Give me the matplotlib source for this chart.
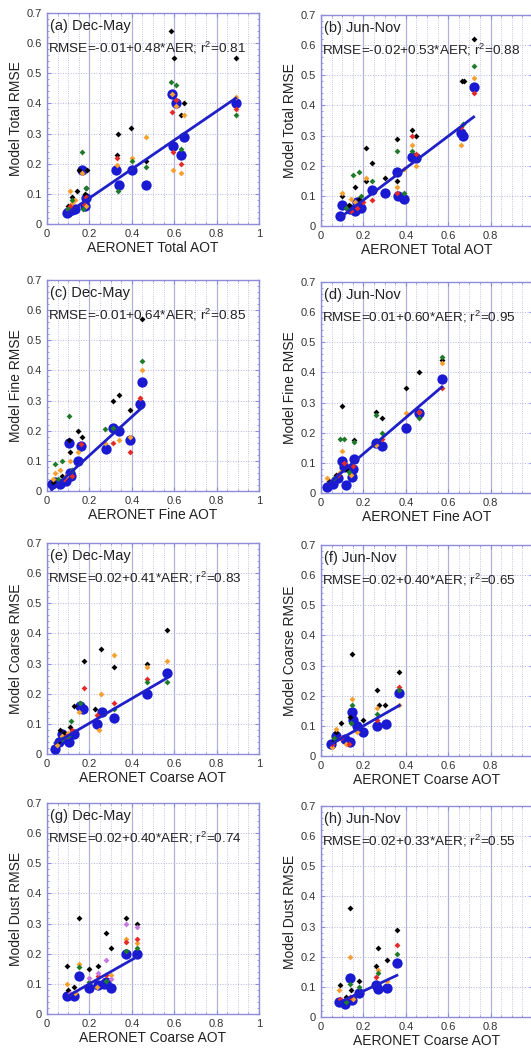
import matplotlib
matplotlib.use("Agg")
import matplotlib.pyplot as plt
from matplotlib.ticker import MultipleLocator

plt.rcParams['font.family'] = ['Liberation Sans', 'DejaVu Sans']
plt.rcParams['mathtext.fontset'] = 'custom'
plt.rcParams['mathtext.rm'] = 'Liberation Sans'
plt.rcParams['mathtext.it'] = 'Liberation Sans'

# ---- panel texts ----
PANEL_TAGS = ["(a) Dec-May", "(b) Jun-Nov", "(c) Dec-May", "(d) Jun-Nov",
              "(e) Dec-May", "(f) Jun-Nov", "(g) Dec-May", "(h) Jun-Nov"]
YLABELS = ["Model Total RMSE", "Model Total RMSE", "Model Fine RMSE", "Model Fine RMSE",
           "Model Coarse RMSE", "Model Coarse RMSE", "Model Dust RMSE", "Model Dust RMSE"]
XLABELS = ["AERONET Total AOT", "AERONET Total AOT", "AERONET Fine AOT", "AERONET Fine AOT",
           "AERONET Coarse AOT", "AERONET Coarse AOT", "AERONET Coarse AOT", "AERONET Coarse AOT"]
INTERCEPT = [-0.01, -0.02, -0.01, 0.01, 0.02, 0.02, 0.02, 0.02]
SLOPE = [0.48, 0.53, 0.64, 0.60, 0.41, 0.40, 0.40, 0.33]
R2 = [0.81, 0.88, 0.85, 0.95, 0.83, 0.65, 0.74, 0.55]

# ---- (a) total, Dec-May ----
A_BLUE = [(0.093, 0.035), (0.10, 0.04), (0.12, 0.045), (0.13, 0.05), (0.163, 0.18), (0.18, 0.06),
          (0.185, 0.085), (0.325, 0.18), (0.34, 0.13), (0.40, 0.18), (0.465, 0.13), (0.59, 0.43),
          (0.61, 0.40), (0.593, 0.26), (0.63, 0.23), (0.645, 0.29), (0.89, 0.40)]
A_BLACK = [(0.585, 0.64), (0.60, 0.55), (0.89, 0.55), (0.645, 0.40), (0.63, 0.36), (0.395, 0.32),
           (0.335, 0.30), (0.465, 0.21), (0.33, 0.23), (0.15, 0.18), (0.19, 0.18), (0.14, 0.11),
           (0.185, 0.12), (0.10, 0.06), (0.12, 0.09), (0.18, 0.10)]
A_ORANGE = [(0.465, 0.29), (0.40, 0.22), (0.33, 0.195), (0.595, 0.18), (0.63, 0.17), (0.645, 0.36),
            (0.89, 0.42), (0.11, 0.11), (0.163, 0.17), (0.61, 0.39), (0.59, 0.43), (0.12, 0.07),
            (0.10, 0.05), (0.185, 0.06), (0.13, 0.08)]
A_RED = [(0.59, 0.37), (0.63, 0.20), (0.593, 0.24), (0.33, 0.22), (0.89, 0.38), (0.61, 0.41),
         (0.185, 0.09), (0.11, 0.06), (0.17, 0.07)]
A_GREEN = [(0.585, 0.47), (0.61, 0.46), (0.163, 0.24), (0.89, 0.36), (0.335, 0.11), (0.40, 0.21),
           (0.465, 0.19), (0.63, 0.25), (0.185, 0.12), (0.10, 0.05), (0.12, 0.08), (0.17, 0.05)]

# ---- (b) total, Jun-Nov ----
B_BLUE = [(0.09, 0.032), (0.10, 0.07), (0.137, 0.056), (0.16, 0.05), (0.19, 0.06), (0.24, 0.12),
          (0.30, 0.11), (0.36, 0.18), (0.365, 0.10), (0.39, 0.09), (0.43, 0.23), (0.45, 0.225),
          (0.66, 0.31), (0.67, 0.30), (0.72, 0.46), (0.17, 0.08)]
B_BLACK = [(0.72, 0.62), (0.665, 0.48), (0.675, 0.48), (0.43, 0.32), (0.45, 0.30), (0.36, 0.29),
           (0.21, 0.26), (0.24, 0.21), (0.30, 0.16), (0.36, 0.15), (0.10, 0.10), (0.16, 0.13),
           (0.21, 0.15), (0.18, 0.09), (0.13, 0.07)]
B_GREEN = [(0.72, 0.53), (0.36, 0.25), (0.15, 0.17), (0.18, 0.18), (0.24, 0.15), (0.67, 0.34),
           (0.43, 0.25), (0.19, 0.10), (0.12, 0.06), (0.39, 0.11)]
B_ORANGE = [(0.72, 0.49), (0.66, 0.27), (0.43, 0.27), (0.21, 0.16), (0.36, 0.13), (0.45, 0.20),
            (0.10, 0.11), (0.39, 0.19), (0.16, 0.08), (0.14, 0.09)]
B_RED = [(0.72, 0.44), (0.66, 0.33), (0.24, 0.085), (0.45, 0.24), (0.36, 0.11), (0.43, 0.30),
         (0.14, 0.05), (0.17, 0.06), (0.20, 0.08)]

# ---- (c) fine, Dec-May ----
C_BLUE = [(0.022, 0.022), (0.04, 0.03), (0.06, 0.022), (0.09, 0.033), (0.11, 0.06), (0.115, 0.05),
          (0.105, 0.16), (0.16, 0.15), (0.145, 0.10), (0.28, 0.14), (0.31, 0.21), (0.34, 0.20),
          (0.39, 0.17), (0.447, 0.36), (0.44, 0.29)]
C_BLACK = [(0.447, 0.57), (0.34, 0.32), (0.31, 0.30), (0.39, 0.27), (0.145, 0.20), (0.163, 0.18),
           (0.11, 0.13), (0.105, 0.17), (0.03, 0.03), (0.07, 0.05)]
C_GREEN = [(0.447, 0.43), (0.105, 0.25), (0.07, 0.10), (0.04, 0.09), (0.31, 0.21), (0.275, 0.205),
           (0.12, 0.07), (0.05, 0.04)]
C_ORANGE = [(0.447, 0.40), (0.44, 0.31), (0.34, 0.17), (0.145, 0.13), (0.11, 0.10), (0.275, 0.16),
            (0.39, 0.18), (0.04, 0.06), (0.06, 0.07), (0.09, 0.05), (0.03, 0.04)]
C_RED = [(0.31, 0.16), (0.39, 0.13), (0.44, 0.31), (0.16, 0.155), (0.08, 0.04), (0.12, 0.05)]

# ---- (d) fine, Jun-Nov ----
D_BLUE = [(0.027, 0.02), (0.058, 0.03), (0.08, 0.05), (0.097, 0.105), (0.11, 0.085), (0.118, 0.028),
          (0.145, 0.053), (0.157, 0.114), (0.15, 0.08), (0.258, 0.166), (0.286, 0.155),
          (0.40, 0.217), (0.46, 0.265), (0.57, 0.377)]
D_BLACK = [(0.57, 0.44), (0.46, 0.40), (0.40, 0.35), (0.10, 0.29), (0.258, 0.27), (0.286, 0.25),
           (0.157, 0.175), (0.07, 0.06), (0.12, 0.08), (0.04, 0.04)]
D_GREEN = [(0.57, 0.45), (0.09, 0.18), (0.11, 0.18), (0.157, 0.17), (0.258, 0.26), (0.286, 0.20),
           (0.46, 0.25), (0.06, 0.05), (0.13, 0.07)]
D_ORANGE = [(0.57, 0.43), (0.40, 0.265), (0.097, 0.14), (0.26, 0.16), (0.46, 0.27), (0.03, 0.05),
            (0.09, 0.07), (0.14, 0.06)]
D_RED = [(0.57, 0.35), (0.46, 0.27), (0.286, 0.18), (0.11, 0.10), (0.08, 0.06), (0.15, 0.09)]

# ---- (e) coarse, Dec-May ----
E_BLUE = [(0.038, 0.018), (0.058, 0.04), (0.07, 0.068), (0.104, 0.04), (0.125, 0.068),
          (0.156, 0.16), (0.17, 0.15), (0.237, 0.10), (0.258, 0.14), (0.316, 0.12),
          (0.473, 0.20), (0.565, 0.27), (0.09, 0.05)]
E_BLACK = [(0.565, 0.41), (0.473, 0.30), (0.255, 0.35), (0.316, 0.29), (0.175, 0.31),
           (0.125, 0.16), (0.225, 0.148), (0.06, 0.08), (0.08, 0.07), (0.11, 0.09), (0.05, 0.04)]
E_ORANGE = [(0.565, 0.31), (0.316, 0.33), (0.255, 0.20), (0.473, 0.29), (0.245, 0.08),
            (0.15, 0.14), (0.07, 0.06), (0.10, 0.07), (0.045, 0.03)]
E_RED = [(0.175, 0.22), (0.473, 0.25), (0.316, 0.17), (0.235, 0.13), (0.09, 0.06), (0.12, 0.08)]
E_GREEN = [(0.565, 0.24), (0.473, 0.24), (0.316, 0.15), (0.115, 0.11), (0.156, 0.17),
           (0.07, 0.05), (0.10, 0.06)]

# ---- (f) coarse, Jun-Nov ----
F_BLUE = [(0.045, 0.04), (0.07, 0.065), (0.115, 0.055), (0.135, 0.045), (0.145, 0.145),
          (0.15, 0.12), (0.17, 0.10), (0.20, 0.08), (0.265, 0.10), (0.305, 0.105), (0.37, 0.21)]
F_BLACK = [(0.145, 0.34), (0.37, 0.28), (0.265, 0.22), (0.275, 0.17), (0.30, 0.17), (0.20, 0.12),
           (0.095, 0.11), (0.135, 0.13), (0.06, 0.05), (0.07, 0.08)]
F_ORANGE = [(0.145, 0.19), (0.265, 0.16), (0.37, 0.17), (0.07, 0.09), (0.05, 0.03), (0.12, 0.04),
            (0.17, 0.08)]
F_RED = [(0.37, 0.23), (0.265, 0.12), (0.095, 0.06), (0.13, 0.04), (0.05, 0.04)]
F_GREEN = [(0.145, 0.17), (0.37, 0.22), (0.265, 0.14), (0.14, 0.11), (0.06, 0.06)]

# ---- (g) dust, Dec-May ----
G_BLUE = [(0.095, 0.06), (0.125, 0.06), (0.153, 0.125), (0.197, 0.086), (0.24, 0.097),
          (0.268, 0.10), (0.28, 0.105), (0.30, 0.086), (0.373, 0.20), (0.425, 0.20)]
G_BLACK = [(0.095, 0.16), (0.153, 0.32), (0.197, 0.15), (0.24, 0.16), (0.277, 0.27), (0.30, 0.22),
           (0.373, 0.32), (0.425, 0.30), (0.125, 0.09), (0.10, 0.08)]
G_ORANGE = [(0.153, 0.165), (0.373, 0.25), (0.425, 0.235), (0.095, 0.10), (0.237, 0.09),
            (0.30, 0.13), (0.13, 0.07)]
G_RED = [(0.373, 0.24), (0.425, 0.25), (0.24, 0.125), (0.28, 0.13)]
G_GREEN = [(0.153, 0.155), (0.425, 0.22), (0.373, 0.21), (0.277, 0.11), (0.197, 0.105)]
G_PURPLE = [(0.373, 0.30), (0.425, 0.29), (0.277, 0.18), (0.24, 0.135), (0.197, 0.12),
            (0.30, 0.115), (0.11, 0.07)]

# ---- (h) dust, Jun-Nov ----
H_BLUE = [(0.087, 0.05), (0.115, 0.042), (0.138, 0.13), (0.146, 0.058), (0.178, 0.081),
          (0.26, 0.107), (0.267, 0.094), (0.31, 0.097), (0.358, 0.18)]
H_BLACK = [(0.09, 0.107), (0.138, 0.36), (0.178, 0.12), (0.26, 0.17), (0.267, 0.23), (0.31, 0.19),
           (0.358, 0.29), (0.117, 0.066), (0.14, 0.09)]
H_ORANGE = [(0.138, 0.20), (0.087, 0.09), (0.267, 0.155), (0.15, 0.06), (0.31, 0.12)]
H_RED = [(0.358, 0.24), (0.26, 0.133), (0.138, 0.066), (0.09, 0.06)]
H_GREEN = [(0.358, 0.21), (0.138, 0.11), (0.178, 0.10), (0.267, 0.145), (0.12, 0.05)]

BLUE_SETS = [A_BLUE, B_BLUE, C_BLUE, D_BLUE, E_BLUE, F_BLUE, G_BLUE, H_BLUE]
SMALL_SETS = [
    [(A_BLACK, "black"), (A_ORANGE, "#f5a030"), (A_RED, "#e52a2a"), (A_GREEN, "#1f7a2a")],
    [(B_BLACK, "black"), (B_ORANGE, "#f5a030"), (B_RED, "#e52a2a"), (B_GREEN, "#1f7a2a")],
    [(C_BLACK, "black"), (C_ORANGE, "#f5a030"), (C_RED, "#e52a2a"), (C_GREEN, "#1f7a2a")],
    [(D_BLACK, "black"), (D_ORANGE, "#f5a030"), (D_RED, "#e52a2a"), (D_GREEN, "#1f7a2a")],
    [(E_BLACK, "black"), (E_ORANGE, "#f5a030"), (E_RED, "#e52a2a"), (E_GREEN, "#1f7a2a")],
    [(F_BLACK, "black"), (F_ORANGE, "#f5a030"), (F_RED, "#e52a2a"), (F_GREEN, "#1f7a2a")],
    [(G_BLACK, "black"), (G_ORANGE, "#f5a030"), (G_RED, "#e52a2a"), (G_GREEN, "#1f7a2a"),
     (G_PURPLE, "#c878e0")],
    [(H_BLACK, "black"), (H_ORANGE, "#f5a030"), (H_RED, "#e52a2a"), (H_GREEN, "#1f7a2a")],
]

W, H = 531, 1048
fig = plt.figure(figsize=(W / 100, H / 100), dpi=100)

# axes boxes in pixels (left, top), all 212 x 211; right column runs off the page edge
boxes = [(47, 13), (321, 15), (47, 280), (321, 282), (47, 543), (321, 545), (47, 803), (321, 806)]
frame_col = "#8c8cd8"

for i, (px, py) in enumerate(boxes):
    ax = fig.add_axes([px / W, 1 - (py + 211) / H, 212 / W, 211 / H])
    ax.set_xlim(0, 1)
    ax.set_ylim(0, 0.7)
    ax.xaxis.set_major_locator(MultipleLocator(0.2))
    ax.xaxis.set_minor_locator(MultipleLocator(0.05))
    ax.yaxis.set_major_locator(MultipleLocator(0.1))
    ax.yaxis.set_minor_locator(MultipleLocator(0.02))
    xlabs = []
    for v in ax.get_xticks():
        if abs(v) < 1e-9:
            xlabs.append("0")
        elif abs(v - 1) < 1e-9:
            # the "1" of the right-hand column falls off the page
            xlabs.append("1" if i % 2 == 0 else "")
        else:
            xlabs.append(f"{v:.1f}")
    ax.set_xticklabels(xlabs)
    ax.set_yticklabels(["0" if abs(v) < 1e-9 else f"{v:.1f}" for v in ax.get_yticks()])
    ax.grid(which="major", axis="x", color="#b0b0d8", lw=0.9, ls="-")
    ax.grid(which="minor", axis="x", color="#b4b4dc", lw=0.6, ls=":")
    ax.grid(which="major", axis="y", color="#b4b4dc", lw=0.7, ls=":")
    ax.set_axisbelow(True)
    for s in ax.spines.values():
        s.set_color(frame_col)
        s.set_linewidth(1.0)
    ax.tick_params(which="both", direction="in", top=True, right=True, colors=frame_col,
                   labelcolor="#333333", labelsize=8)
    ax.tick_params(which="major", length=3)
    ax.tick_params(which="minor", length=1.5)

    bx = [p[0] for p in BLUE_SETS[i]]
    by = [p[1] for p in BLUE_SETS[i]]
    ax.scatter(bx, by, s=55, color="#1a1ad2", zorder=3, linewidths=0)
    for pts, col in SMALL_SETS[i]:
        ax.scatter([p[0] for p in pts], [p[1] for p in pts], s=9, marker="D", color=col,
                   zorder=4, linewidths=0)

    x0, x1 = min(bx), max(bx)
    ax.plot([x0, x1], [INTERCEPT[i] + SLOPE[i] * x0, INTERCEPT[i] + SLOPE[i] * x1],
            color="#2020c8", lw=2.0, zorder=5)

    ax.text(0.015, 0.94, PANEL_TAGS[i], transform=ax.transAxes, fontsize=10.5,
            ha="left", va="center", color="#222222")
    ax.text(0.005, 0.835,
            f"RMSE={INTERCEPT[i]:.2f}+{SLOPE[i]:.2f}*AER; r$^{{2}}$={R2[i]:.2f}",
            transform=ax.transAxes, fontsize=9.7, ha="left", va="center", color="#222222")
    ax.set_xlabel(XLABELS[i], fontsize=10, color="#222222", labelpad=1.5)
    ax.set_ylabel(YLABELS[i], fontsize=10, color="#222222", labelpad=3)

fig.savefig("out.png", dpi=100, facecolor="white")
